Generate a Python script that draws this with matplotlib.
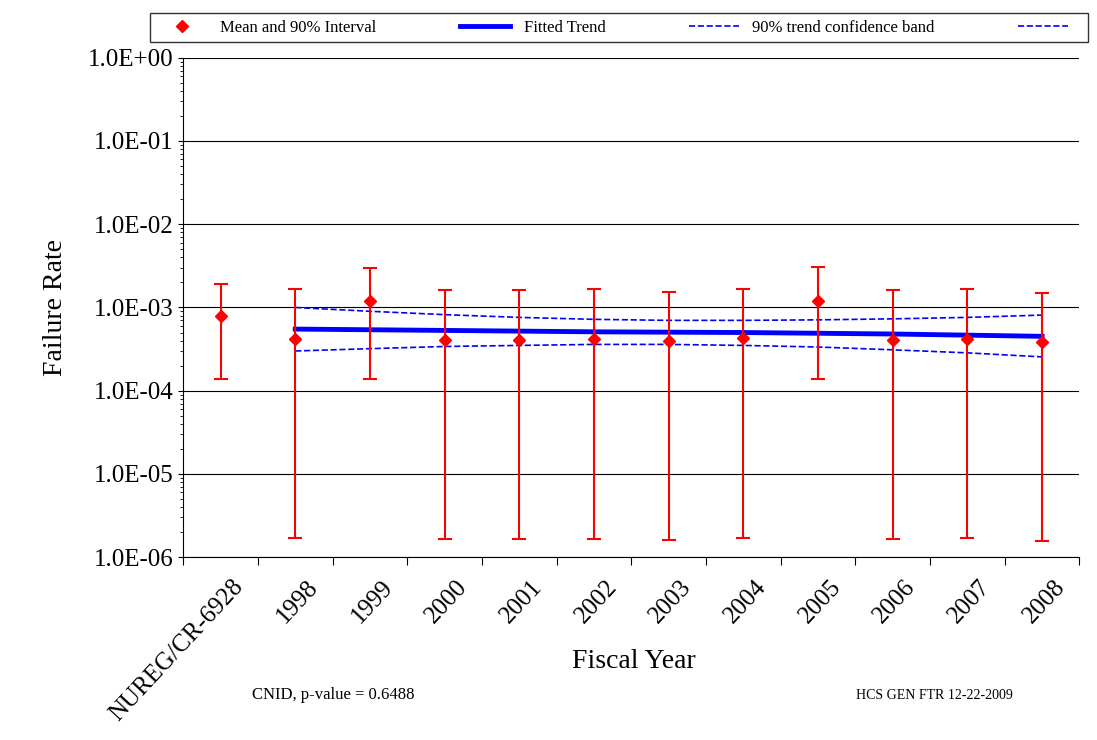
import matplotlib
matplotlib.use("Agg")
import matplotlib.pyplot as plt
import numpy as np

plt.rcParams['font.family'] = ['Liberation Serif', 'DejaVu Serif']

categories = ["NUREG/CR-6928", "1998", "1999", "2000", "2001", "2002", "2003", "2004", "2005", "2006", "2007", "2008"]
means = [8.0e-4, 4.2e-4, 1.2e-3, 4.1e-4, 4.1e-4, 4.2e-4, 4.0e-4, 4.3e-4, 1.2e-3, 4.1e-4, 4.2e-4, 3.8e-4]
upper = [1.9e-3, 1.65e-3, 3.0e-3, 1.6e-3, 1.6e-3, 1.65e-3, 1.55e-3, 1.65e-3, 3.1e-3, 1.6e-3, 1.65e-3, 1.5e-3]
lower = [1.4e-4, 1.7e-6, 1.4e-4, 1.65e-6, 1.65e-6, 1.65e-6, 1.6e-6, 1.7e-6, 1.4e-4, 1.65e-6, 1.7e-6, 1.55e-6]
trend = [5.5e-4, 5.4e-4, 5.3e-4, 5.2e-4, 5.1e-4, 5.05e-4, 5.0e-4, 4.9e-4, 4.8e-4, 4.65e-4, 4.5e-4]
band_hi = [1.0e-3, 9.0e-4, 8.2e-4, 7.6e-4, 7.2e-4, 7.0e-4, 7.0e-4, 7.1e-4, 7.3e-4, 7.6e-4, 8.1e-4]
band_lo = [3.0e-4, 3.2e-4, 3.4e-4, 3.5e-4, 3.6e-4, 3.6e-4, 3.5e-4, 3.35e-4, 3.1e-4, 2.85e-4, 2.55e-4]
ytick_labels = ["1.0E-06", "1.0E-05", "1.0E-04", "1.0E-03", "1.0E-02", "1.0E-01", "1.0E+00"]

fig = plt.figure(figsize=(10.97, 7.4), dpi=100)
ax = fig.add_axes([0.167, 0.247, 0.817, 0.675])
x = np.arange(len(categories)) + 0.5
m = np.array(means)
yerr = [m - np.array(lower), np.array(upper) - m]
ax.errorbar(x, m, yerr=yerr, fmt='D', color='red', ecolor='red', ms=6, capsize=5, elinewidth=1.5, capthick=1.5, zorder=4)
xt = x[1:]
ax.plot(xt, trend, color='blue', lw=3.5, zorder=3)
ax.plot(xt, band_hi, color='blue', lw=1.2, ls='--', zorder=3)
ax.plot(xt, band_lo, color='blue', lw=1.2, ls='--', zorder=3)

ax.set_yscale('log')
ax.set_ylim(1e-6, 1)
ax.set_yticks([10.0**k for k in range(-6, 1)])
ax.set_yticklabels(ytick_labels, fontsize=18)
ax.yaxis.set_minor_locator(matplotlib.ticker.LogLocator(base=10, subs=np.arange(2, 10)))
ax.yaxis.set_minor_formatter(matplotlib.ticker.NullFormatter())
ax.grid(axis='y', which='major', color='black', lw=0.8)
ax.set_xlim(0, len(categories))
ax.set_xticks(np.arange(len(categories) + 1))
ax.set_xticklabels([])
ax.tick_params(axis='x', length=6)
for xi, lab in zip(x, categories):
    ax.text(xi + 0.15, 6e-7, lab, rotation=47, ha='right', va='top', fontsize=18, rotation_mode='anchor')
for s in ['top', 'right']:
    ax.spines[s].set_visible(False)
ax.set_ylabel("Failure Rate", fontsize=20, labelpad=14)
fig.text(0.578, 0.097, "Fiscal Year", fontsize=20, ha='center')
fig.text(0.23, 0.055, "CNID, p-value = 0.6488", fontsize=12)
fig.text(0.78, 0.055, "HCS GEN FTR 12-22-2009", fontsize=10)

from matplotlib.lines import Line2D
handles = [Line2D([], [], color='red', marker='D', ls='none', ms=6),
           Line2D([], [], color='blue', lw=3.5),
           Line2D([], [], color='blue', lw=1.2, ls='--'),
           Line2D([], [], color='blue', lw=1.2, ls='--')]
labels = ["Mean and 90% Interval", "Fitted Trend", "90% trend confidence band", ""]
fig.legend(handles, labels, loc='lower left', bbox_to_anchor=(0.137, 0.943, 0.855, 0.045), mode='expand', ncol=4, fontsize=12,
           frameon=True, fancybox=False, edgecolor='black', handlelength=3, borderaxespad=0)
fig.savefig("out.png", dpi=100)
